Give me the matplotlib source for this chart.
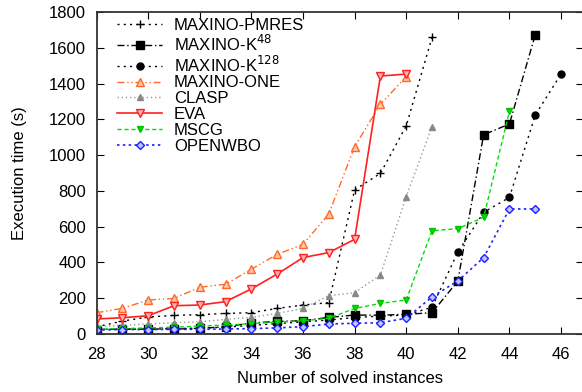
import numpy as np
import matplotlib
matplotlib.use("Agg")
import matplotlib.pyplot as plt

plt.rcParams['font.family'] = ['Liberation Sans', 'DejaVu Sans']
plt.rcParams['font.size'] = 12

# solved instances (x) and execution times (y) per solver
pmres_x = list(range(28, 42))
pmres_y = [40, 72, 95, 104, 108, 115, 119, 143, 162, 175, 805, 898, 1163, 1658]

k48_x = list(range(28, 46))
k48_y = [25, 27, 28, 27, 32, 40, 62, 70, 74, 93, 106, 105, 110, 119, 296, 1114, 1174, 1673]

k128_x = list(range(28, 47))
k128_y = [24, 26, 28, 30, 33, 38, 48, 58, 68, 78, 92, 100, 106, 150, 457, 680, 764, 1224, 1453]

one_x = list(range(28, 41))
one_y = [119, 143, 190, 199, 261, 278, 362, 445, 501, 671, 1047, 1284, 1438]

clasp_x = list(range(28, 42))
clasp_y = [42, 48, 56, 63, 68, 82, 93, 115, 143, 214, 231, 330, 768, 1159]

eva_x = list(range(28, 41))
eva_y = [84, 91, 102, 158, 162, 181, 252, 335, 427, 455, 529, 1442, 1453]

mscg_x = list(range(28, 45))
mscg_y = [28, 30, 34, 38, 44, 50, 58, 66, 74, 88, 143, 171, 190, 577, 589, 652, 1246]

owbo_x = list(range(28, 46))
owbo_y = [24, 25, 25, 26, 26, 28, 30, 34, 41, 56, 60, 63, 88, 207, 297, 427, 699, 699]

fig = plt.figure(figsize=(5.82, 3.92), dpi=100)
ax = fig.add_axes([96.5 / 582, 1 - 334 / 392, (583 - 96.5) / 582, (334 - 12) / 392])

ax.plot(pmres_x, pmres_y, color='black', ls=(0, (1.5, 3)), lw=1, marker='+', ms=6, mew=1,
        label='MAXINO-PMRES')
ax.plot(k48_x, k48_y, color='black', ls=(0, (5, 2, 1, 2)), lw=1, marker='s', ms=5.5,
        label='MAXINO-K$^{48}$')
ax.plot(k128_x, k128_y, color='black', ls=(0, (1.5, 3)), lw=1, marker='o', ms=5,
        label='MAXINO-K$^{128}$')
ax.plot(one_x, one_y, color='#ff6a2a', ls=(0, (5, 2, 1, 2, 1, 2)), lw=1, marker='^', ms=6,
        mfc='#ffc8a8', mec='#ff6a2a', label='MAXINO-ONE')
ax.plot(clasp_x, clasp_y, color='#999999', ls=(0, (1, 2)), lw=1, marker='^', ms=4.5,
        mfc='#888888', mec='#888888', label='CLASP')
ax.plot(eva_x, eva_y, color='#ff2020', ls='-', lw=1.2, marker='v', ms=6,
        mfc='#ffb0b0', mec='#ff2020', label='EVA')
ax.plot(mscg_x, mscg_y, color='#00e000', ls=(0, (3, 2)), lw=1, marker='v', ms=4.5,
        mfc='#00e000', mec='#00c000', label='MSCG')
ax.plot(owbo_x, owbo_y, color='#2020ff', ls=(0, (1.5, 2)), lw=1.2, marker='D', ms=4.5,
        mfc='#b8c8ff', mec='#2020ff', label='OPENWBO')

ax.set_xlim(28, 46.85)
ax.set_ylim(0, 1800)
ax.set_xticks(range(28, 47, 2))
ax.set_yticks(range(0, 1801, 200))
ax.tick_params(direction='in', top=True, right=True, length=5, width=0.8)
ax.tick_params(axis='x', pad=9.5)
ax.tick_params(axis='y', pad=7.5)
for s in ax.spines.values():
    s.set_linewidth(1.3)
    s.set_color('#333333')

ax.set_xlabel('Number of solved instances', labelpad=6)
ax.set_ylabel('Execution time (s)', labelpad=16)

ax.legend(loc='upper left', frameon=False, handlelength=2.7, handletextpad=0.7,
          labelspacing=0.05, borderaxespad=0.0, bbox_to_anchor=(0.029, 1.003))

fig.savefig('out.png', dpi=100)
